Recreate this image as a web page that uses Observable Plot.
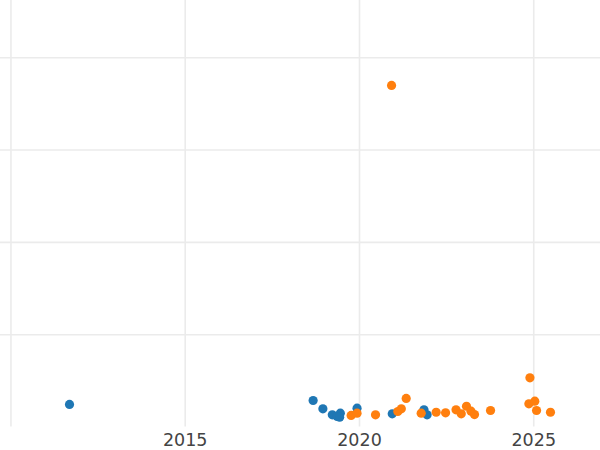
<!DOCTYPE html>
<html>
<head>
<meta charset="utf-8">
<script src="https://cdn.jsdelivr.net/npm/d3@7"></script>
<script src="https://cdn.jsdelivr.net/npm/@observablehq/plot@0.6"></script>
<style>
  html, body { margin: 0; padding: 0; background: #fff; }
  #chart svg { display: block; font-family: "DejaVu Sans", sans-serif; }
</style>
</head>
<body>
<div id="chart"></div>
<script>
// Series A (blue)
const blueYear  = [2011.68, 2018.67, 2018.95, 2019.22, 2019.36, 2019.45, 2019.43, 2019.93, 2020.94, 2021.85, 2021.94];
const blueValue = [24.4, 28.7, 19.7, 13.2, 11.4, 15.0, 10.6, 20.4, 14.3, 18.6, 13.2];
// Series B (orange)
const orangeYear  = [2019.76, 2019.93, 2020.46, 2021.10, 2021.20, 2021.34, 2020.92, 2021.77, 2022.20, 2022.47, 2022.77, 2022.92, 2023.07, 2023.20, 2023.30, 2023.76, 2024.89, 2024.86, 2025.03, 2025.08, 2025.48];
const orangeValue = [12.5, 15.0, 13.2, 16.8, 19.7, 30.9, 370, 15.0, 16.0, 15.4, 18.6, 14.3, 22.5, 17.1, 13.5, 17.9, 53.3, 25.1, 28.0, 17.9, 16.0];
// Axis ticks
const xTickLabels = [2015, 2020, 2025];
const xGridLines = [2010, 2015, 2020, 2025];
const yGridLines = [100, 200, 300, 400];

const blue = blueYear.map((x, i) => ({x, y: blueValue[i]}));
const orange = orangeYear.map((x, i) => ({x, y: orangeValue[i]}));

const chart = Plot.plot({
  width: 600,
  height: 450,
  marginTop: 0,
  marginRight: 0,
  marginLeft: 0,
  marginBottom: 23.5,
  style: {background: "#fff", fontFamily: "DejaVu Sans, sans-serif"},
  x: {domain: [2009.70, 2026.915], label: null},
  y: {domain: [0, 462], axis: null},
  marks: [
    Plot.gridY(yGridLines, {stroke: "#ebebeb", strokeOpacity: 1, strokeWidth: 1.6, x1: 2009.70, x2: 2026.915}),
    Plot.ruleX(xGridLines, {stroke: "#ebebeb", strokeWidth: 1.6, y1: 0, y2: 462}),
    Plot.dot(blue, {x: "x", y: "y", r: 4.6, fill: "#1f77b4", stroke: "none"}),
    Plot.dot(orange, {x: "x", y: "y", r: 4.6, fill: "#ff7f0e", stroke: "none"}),
    Plot.axisX(xTickLabels, {tickSize: 0, tickPadding: 7, tickFormat: d => String(d), fontSize: 17.5, fill: "#444", label: null})
  ]
});
document.getElementById("chart").appendChild(chart);
</script>
</body>
</html>
